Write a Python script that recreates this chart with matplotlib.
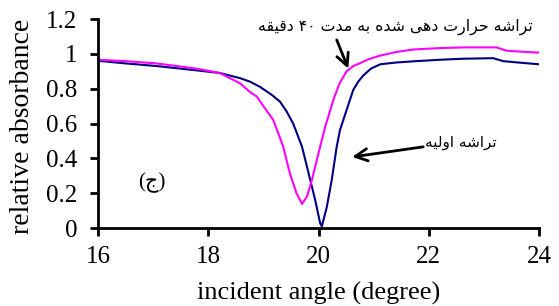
import re
import matplotlib
matplotlib.use("Agg")
import matplotlib.pyplot as plt

# initial chip (blue) and chip heated for 40 min (pink)
angle_initial = [16.0, 16.5, 17.06, 17.79, 18.21, 18.58, 18.76, 18.94, 19.15, 19.3, 19.42,
                 19.54, 19.7, 19.82, 19.94, 20.03, 20.06, 20.15, 20.24, 20.33, 20.39,
                 20.51, 20.63, 20.72, 20.81, 20.95, 21.12, 21.4, 21.72, 22.2, 22.63,
                 23.17, 23.35, 23.7, 24.0]
abs_initial = [0.96, 0.945, 0.93, 0.905, 0.89, 0.86, 0.84, 0.81, 0.765, 0.726, 0.67,
               0.60, 0.467, 0.314, 0.16, 0.027, 0.01, 0.12, 0.276, 0.467, 0.563,
               0.678, 0.793, 0.84, 0.875, 0.915, 0.94, 0.95, 0.957, 0.966, 0.972,
               0.975, 0.958, 0.948, 0.94]

angle_heated = [16.0, 16.5, 17.06, 17.79, 18.21, 18.58, 18.76, 18.88, 19.0, 19.18, 19.36,
                19.48, 19.6, 19.7, 19.79, 19.88, 20.0, 20.12, 20.27, 20.38, 20.51,
                20.63, 20.75, 20.9, 21.12, 21.4, 21.72, 22.2, 22.63, 23.23, 23.41,
                23.7, 24.0]
abs_heated = [0.966, 0.958, 0.945, 0.915, 0.89, 0.83, 0.78, 0.755, 0.70, 0.62, 0.467,
              0.314, 0.20, 0.138, 0.18, 0.276, 0.43, 0.58, 0.736, 0.83, 0.90,
              0.93, 0.946, 0.968, 0.99, 1.01, 1.025, 1.033, 1.037, 1.037, 1.018,
              1.012, 1.007]

x_ticks = [16, 18, 20, 22, 24]
y_ticks = [0, 0.2, 0.4, 0.6, 0.8, 1, 1.2]
y_ticklabels = ["0", "0.2", "0.4", "0.6", "0.8", "1", "1.2"]

label_heated = "تراشه حرارت دهی شده به مدت ۴۰ دقیقه"
label_initial = "تراشه اولیه"
panel_label = "(ج)"

# tiny arabic/persian shaper: (isolated, final, initial, medial)
FORMS = {
    "ا": ("\uFE8D", "\uFE8E", None, None),
    "ب": ("\uFE8F", "\uFE90", "\uFE91", "\uFE92"),
    "ت": ("\uFE95", "\uFE96", "\uFE97", "\uFE98"),
    "ج": ("\uFE9D", "\uFE9E", "\uFE9F", "\uFEA0"),
    "ح": ("\uFEA1", "\uFEA2", "\uFEA3", "\uFEA4"),
    "د": ("\uFEA9", "\uFEAA", None, None),
    "ر": ("\uFEAD", "\uFEAE", None, None),
    "ش": ("\uFEB5", "\uFEB6", "\uFEB7", "\uFEB8"),
    "ق": ("\uFED5", "\uFED6", "\uFED7", "\uFED8"),
    "ل": ("\uFEDD", "\uFEDE", "\uFEDF", "\uFEE0"),
    "م": ("\uFEE1", "\uFEE2", "\uFEE3", "\uFEE4"),
    "ه": ("\uFEE9", "\uFEEA", "\uFEEB", "\uFEEC"),
    "و": ("\uFEED", "\uFEEE", None, None),
    "ی": ("\uFEEF", "\uFEF0", "\uFEF3", "\uFEF4"),
}


def shape(text):
    out = []
    for i, ch in enumerate(text):
        if ch not in FORMS:
            out.append(ch)
            continue
        prev = text[i - 1] if i > 0 else ""
        nxt = text[i + 1] if i + 1 < len(text) else ""
        jp = prev in FORMS and FORMS[prev][2] is not None
        jn = nxt in FORMS and FORMS[ch][2] is not None
        iso, fin, ini, med = FORMS[ch]
        if jp and jn:
            out.append(med)
        elif jp:
            out.append(fin)
        elif jn:
            out.append(ini)
        else:
            out.append(iso)
    vis = "".join(out)[::-1]
    vis = re.sub("[\u06F0-\u06F9]+", lambda m: m.group(0)[::-1], vis)
    return vis.replace(")", "\0").replace("(", ")").replace("\0", "(")


fig = plt.figure(figsize=(5.59, 3.06), dpi=100)
ax = fig.add_axes([0.1753, 0.2549, 0.789, 0.683])

ax.plot(angle_initial, abs_initial, color="#000080", lw=1.5)
ax.plot(angle_heated, abs_heated, color="#FF00FF", lw=1.5)

ax.set_xlim(16, 24)
ax.set_ylim(0, 1.2)
ax.set_xticks(x_ticks)
ax.set_yticks(y_ticks)
ax.set_yticklabels(y_ticklabels)

for s in ["top", "right"]:
    ax.spines[s].set_visible(False)
for s in ["left", "bottom"]:
    ax.spines[s].set_linewidth(2)
ax.tick_params(width=2, length=6, labelsize=18)
ax.tick_params(axis="y", pad=9)
ax.tick_params(axis="x", pad=7)
for lab in ax.get_xticklabels() + ax.get_yticklabels():
    lab.set_family("Liberation Serif")

ax.set_xlabel("incident angle (degree)", family="Liberation Serif", fontsize=19)
ax.set_ylabel("relative absorbance", family="Liberation Serif", fontsize=20)
ax.xaxis.set_label_coords(0.5, -0.26)
ax.yaxis.set_label_coords(-0.143, 0.488)

arrow = dict(arrowstyle="->", lw=2, color="black", mutation_scale=22, shrinkA=0, shrinkB=0)
ax.annotate("", xy=(20.54, 0.915), xytext=(20.33, 1.08), arrowprops=arrow)
ax.annotate("", xy=(20.61, 0.408), xytext=(21.9, 0.466), arrowprops=arrow)

ax.text(21.39, 1.155, shape(label_heated), family="DejaVu Sans", fontsize=11.3,
        ha="center", va="center")
ax.text(22.58, 0.49, shape(label_initial), family="DejaVu Sans", fontsize=11,
        ha="center", va="center")
ax.text(16.98, 0.26, shape(panel_label), family=["Liberation Serif", "DejaVu Sans"],
        fontsize=15, ha="center", va="center")

fig.savefig("out.png", dpi=100)
